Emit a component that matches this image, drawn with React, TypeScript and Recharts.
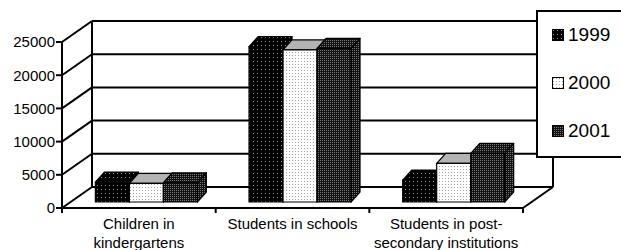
import React from "react";
import { BarChart, Bar, XAxis, YAxis, CartesianGrid } from "recharts";

// values
const categoryLines = [
  ["Children in", "kindergartens"],
  ["Students in schools"],
  ["Students in post-", "secondary institutions"],
];
const categories = categoryLines.map((l) => l.join(" "));
const seriesNames = ["1999", "2000", "2001"];
const values1999 = [3000, 23400, 3300];
const values2000 = [2800, 22900, 5830];
const values2001 = [2900, 23150, 7330];
const yTicks = [0, 5000, 10000, 15000, 20000, 25000];

const data = categories.map((name, i) => ({
  name,
  "1999": values1999[i],
  "2000": values2000[i],
  "2001": values2001[i],
}));

const FONT = "'Liberation Sans', Arial, sans-serif";

// fake 3d: wall depth, bar placement inside the floor, bar depth
const DX = 30, DY = -21;
const SX = 8, SY = -6;
const BX = 9, BY = -10;

const patternIds = ["p1999", "p2000", "p2001"];
const topFills = ["url(#p1999)", "#b4b4b4", "url(#p2001)"];

const Patterns = ({ suffix = "" }: { suffix?: string }) => (
  <defs>
    <pattern id={"p1999" + suffix} width={4} height={4} patternUnits="userSpaceOnUse">
      <rect width={4} height={4} fill="#000" />
      <rect x={1} y={1} width={1} height={1} fill="#9a9a9a" />
    </pattern>
    <pattern id={"p2000" + suffix} width={3} height={3} patternUnits="userSpaceOnUse">
      <rect width={3} height={3} fill="#fff" />
      <rect x={1} y={1} width={1} height={1} fill="#a0a0a0" />
    </pattern>
    <pattern id={"p2001" + suffix} width={2} height={2} patternUnits="userSpaceOnUse">
      <rect width={2} height={2} fill="#111" />
      <rect x={0} y={0} width={1} height={1} fill="#7a7a7a" />
    </pattern>
  </defs>
);

const box = (i: number) => (p: any) => {
  const { x, y, width: w, height: h } = p;
  if (w == null || h == null) return <g />;
  const fx = x + SX;
  const fy = y + SY;
  const fill = `url(#${patternIds[i]})`;
  return (
    <g stroke="#000" strokeWidth={1.2} strokeLinejoin="round">
      <polygon
        points={`${fx + w},${fy} ${fx + w + BX},${fy + BY} ${fx + w + BX},${fy + h + BY} ${fx + w},${fy + h}`}
        fill={fill}
      />
      <polygon
        points={`${fx},${fy} ${fx + BX},${fy + BY} ${fx + w + BX},${fy + BY} ${fx + w},${fy}`}
        fill={topFills[i]}
      />
      <rect x={fx} y={fy} width={w} height={h} fill={fill} />
    </g>
  );
};

// each horizontal grid line becomes a back-wall line plus a side-wall diagonal
const wallLine = (p: any) => {
  const { x1, x2, y1, y, height } = p;
  const bottom = y + height;
  const s = { stroke: "#000", strokeWidth: 2 };
  return (
    <g key={p.key}>
      <line x1={x1} y1={y1} x2={x1 + DX} y2={y1 + DY} {...s} />
      <line x1={x1 + DX} y1={y1 + DY} x2={x2 + DX} y2={y1 + DY} {...s} />
      {Math.abs(y1 - y) < 1 && (
        <line x1={x1 + DX} y1={y1 + DY} x2={x1 + DX} y2={bottom + DY} {...s} />
      )}
      {Math.abs(y1 - bottom) < 1 && (
        <>
          <line x1={x2} y1={y1} x2={x2 + DX} y2={y1 + DY} {...s} />
          <line x1={x2 + DX} y1={y1 + DY} x2={x2 + DX} y2={y + DY} {...s} />
        </>
      )}
    </g>
  );
};

const CategoryTick = (p: any) => {
  const { x, y, index, width, visibleTicksCount } = p;
  const bw = (width || 461) / (visibleTicksCount || 3);
  const lines = categoryLines[index] || [];
  return (
    <g>
      {index === 0 && <line x1={x - bw / 2} y1={y} x2={x - bw / 2} y2={y + 5} stroke="#000" strokeWidth={2} />}
      <line x1={x + bw / 2} y1={y} x2={x + bw / 2} y2={y + 5} stroke="#000" strokeWidth={2} />
      {lines.map((t, k) => (
        <text key={k} x={x} y={y + 21 + k * 19} textAnchor="middle" fontSize={15} fontFamily={FONT} fill="#000">
          {t}
        </text>
      ))}
    </g>
  );
};

const LegendBox = () => (
  <div
    style={{
      position: "absolute",
      left: 536,
      top: 10,
      width: 110,
      height: 148,
      boxSizing: "border-box",
      border: "2px solid #000",
      background: "#fff",
    }}
  >
    {seriesNames.map((s, i) => (
      <div
        key={s}
        style={{
          position: "absolute",
          left: 14,
          top: 12 + i * 48,
          height: 22,
          display: "flex",
          alignItems: "center",
          fontFamily: FONT,
          fontSize: 19,
          color: "#000",
        }}
      >
        <svg width={12} height={12} style={{ marginRight: 4 }}>
          <Patterns suffix={"-l" + i} />
          <rect x={0.5} y={0.5} width={11} height={11} fill={`url(#${patternIds[i]}-l${i})`} stroke="#000" />
        </svg>
        {s}
      </div>
    ))}
  </div>
);

export default function App() {
  return (
    <div
      style={{
        position: "absolute",
        left: 0,
        top: 0,
        width: 621,
        height: 250,
        overflow: "hidden",
        background: "#fff",
      }}
    >
      <BarChart
        width={621}
        height={250}
        data={data}
        margin={{ top: 42, right: 98, bottom: 0, left: 0 }}
        barCategoryGap="16.5%"
        barGap={0}
      >
        <Patterns />
        <CartesianGrid vertical={false} horizontal={wallLine} />
        <XAxis
          dataKey="name"
          height={42}
          interval={0}
          tickSize={0}
          tickMargin={0}
          tickLine={false}
          axisLine={{ stroke: "#000", strokeWidth: 2 }}
          tick={<CategoryTick />}
        />
        <YAxis
          width={62}
          domain={[0, 25000]}
          ticks={yTicks}
          interval={0}
          tickSize={6}
          tickMargin={1}
          axisLine={{ stroke: "#000", strokeWidth: 2 }}
          tickLine={{ stroke: "#000", strokeWidth: 2 }}
          tick={{ fill: "#000", fontSize: 15, fontFamily: FONT }}
        />
        {seriesNames.map((s, i) => (
          <Bar key={s} dataKey={s} shape={box(i)} isAnimationActive={false} />
        ))}
      </BarChart>
      <LegendBox />
    </div>
  );
}
